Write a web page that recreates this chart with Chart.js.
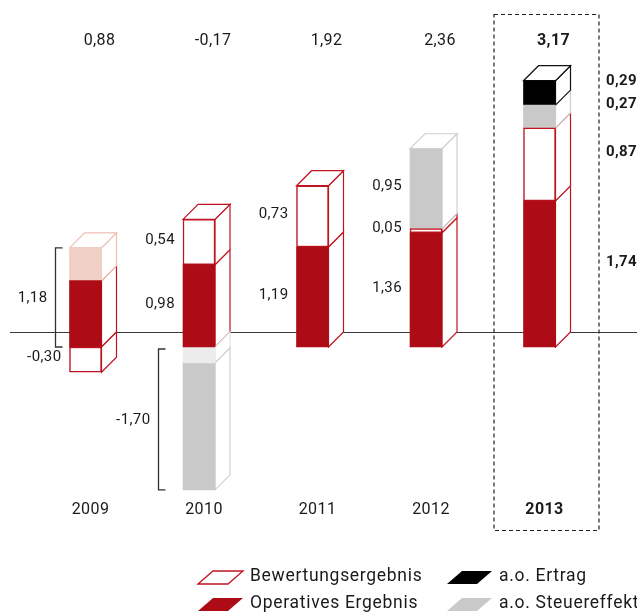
<!DOCTYPE html>
<html><head><meta charset="utf-8">
<script src="https://cdn.jsdelivr.net/npm/chart.js@4.4.1/dist/chart.umd.min.js"></script>
<style>html,body{margin:0;padding:0;background:#fff;overflow:hidden}canvas{display:block}</style>
</head><body>
<canvas id="c" width="637" height="613"></canvas>
<script>
// ---- data ----
const years = ['2009', '2010', '2011', '2012', '2013'];
const totalLabels = ['0,88', '-0,17', '1,92', '2,36', '3,17'];
const operativesErgebnis = [0.79, 0.98, 1.19, 1.36, 1.74];
const operativesHell = [0.39, null, null, null, null];
const bewertungsergebnis = [-0.30, 0.54, 0.73, 0.05, 0.87];
const steuereffektHell = [null, -0.19, null, null, null];
const aoSteuereffekt = [null, -1.51, null, 0.95, 0.27];
const aoErtrag = [null, null, null, null, 0.29];
const bracketLabels = ['1,18', '-1,70'];
const legendLabels = ['Bewertungsergebnis', 'a.o. Ertrag', 'Operatives Ergebnis', 'a.o. Steuereffekt'];

const FONT = 'Roboto, "DejaVu Sans", sans-serif';
const D = 15;            // depth of the 3D faces
const HIGHLIGHT = 4;     // index of highlighted (bold) year
const RED = '#ad0c17';
const REDLINE = '#c01420';

const datasets = [
  {label: legendLabels[2], data: operativesErgebnis, backgroundColor: RED, borderColor: RED, borderWidth: 0,
   sideColor: REDLINE, labeled: true},
  {label: 'hell', data: operativesHell, backgroundColor: '#f0d0c6', borderColor: '#efc7bb', borderWidth: 0,
   sideColor: '#eec0b4', labeled: false},
  {label: legendLabels[0], data: bewertungsergebnis, backgroundColor: '#ffffff', borderColor: REDLINE, borderWidth: 1.5,
   sideColor: REDLINE, labeled: true},
  {label: 'hell2', data: steuereffektHell, backgroundColor: '#ececec', borderColor: '#ececec', borderWidth: 0,
   sideColor: '#e4e4e4', labeled: false},
  {label: legendLabels[3], data: aoSteuereffekt, backgroundColor: '#c8c9c8', borderColor: '#c8c9c8', borderWidth: 0,
   sideColor: '#cfd0cf', labeled: true},
  {label: legendLabels[1], data: aoErtrag, backgroundColor: '#000000', borderColor: '#000000', borderWidth: 0,
   sideColor: '#111111', labeled: true}
];
datasets.forEach(d => { d.borderSkipped = false; d.barThickness = 32; });

// brackets: column, sign of the stack part they embrace
const brackets = [
  {col: 0, sign: 1, label: bracketLabels[0], gap: 15},
  {col: 1, sign: -1, label: bracketLabels[1], gap: 25}
];

function fmt(v) { return v.toFixed(2).replace('.', ','); }

function segments(chart, col) {
  const out = [];
  chart.data.datasets.forEach((ds, di) => {
    const v = ds.data[col];
    if (v === null || v === undefined) return;
    const el = chart.getDatasetMeta(di).data[col];
    const p = el.getProps(['x', 'y', 'base', 'width'], true);
    out.push({ds, di, v, left: p.x - p.width / 2, right: p.x + p.width / 2,
      top: Math.min(p.y, p.base), bottom: Math.max(p.y, p.base), x: p.x});
  });
  return out;
}

function poly(ctx, pts, fill, stroke, lw) {
  ctx.beginPath();
  ctx.moveTo(pts[0][0], pts[0][1]);
  for (let i = 1; i < pts.length; i++) ctx.lineTo(pts[i][0], pts[i][1]);
  ctx.closePath();
  if (fill) { ctx.fillStyle = fill; ctx.fill(); }
  if (stroke) { ctx.strokeStyle = stroke; ctx.lineWidth = lw || 1.2; ctx.stroke(); }
}

function setFont(ctx, weight, size, spacing) {
  ctx.font = weight + ' ' + size + 'px ' + FONT;
  if ('letterSpacing' in ctx) ctx.letterSpacing = spacing + 'px';
}

const depthPlugin = {
  id: 'depth',
  beforeDatasetsDraw(chart) {
    const ctx = chart.ctx;
    const y0 = chart.scales.y.getPixelForValue(0) - D;
    ctx.save();
    ctx.strokeStyle = '#3a3a3a'; ctx.lineWidth = 1;
    ctx.beginPath(); ctx.moveTo(10, Math.round(y0) + 0.5); ctx.lineTo(637, Math.round(y0) + 0.5); ctx.stroke();
    ctx.lineJoin = 'miter';
    years.forEach((y, col) => {
      const segs = segments(chart, col);
      segs.forEach(s => {
        poly(ctx, [[s.right, s.top], [s.right + D, s.top - D], [s.right + D, s.bottom - D], [s.right, s.bottom]],
          '#ffffff', s.ds.sideColor, 1.2);
      });
      const pos = segs.filter(s => s.v > 0);
      if (pos.length) {
        const t = pos.reduce((a, b) => (b.top < a.top ? b : a));
        poly(ctx, [[t.left, t.top], [t.left + D, t.top - D], [t.right + D, t.top - D], [t.right, t.top]],
          '#ffffff', t.ds.sideColor, 1.2);
      }
    });
    ctx.restore();
  },
  afterDraw(chart) {
    const ctx = chart.ctx;
    ctx.save();
    ctx.fillStyle = '#1a1a1a';
    ctx.textBaseline = 'middle';
    // dashed box around highlighted year
    const hx = chart.scales.x.getPixelForValue(HIGHLIGHT);
    ctx.setLineDash([4, 3]); ctx.strokeStyle = '#222'; ctx.lineWidth = 1.2;
    ctx.strokeRect(hx - 45.5, 14.5, 105, 516);
    ctx.setLineDash([]);

    years.forEach((yr, col) => {
      const segs = segments(chart, col);
      const bold = col === HIGHLIGHT;
      const x = chart.scales.x.getPixelForValue(col);
      ctx.textAlign = 'center';
      setFont(ctx, bold ? '700' : '400', 16, 0.4);
      ctx.fillText(totalLabels[col], x + 14, 41);
      ctx.fillText(yr, x + 5, 510);
      const br = brackets.find(b => b.col === col);
      segs.forEach(s => {
        if (!s.ds.labeled) return;
        if (br && Math.sign(s.v) === br.sign) return;
        const mid = (s.top + s.bottom) / 2;
        if (bold) {
          ctx.textAlign = 'left';
          setFont(ctx, '700', 15, 0.4);
          ctx.fillText(fmt(s.v), 606, mid - 12);
        } else {
          ctx.textAlign = 'right';
          setFont(ctx, '400', 15, 0.4);
          ctx.fillText(fmt(s.v), s.left - 8, mid - 2);
        }
      });
      if (br) {
        const part = segs.filter(s => Math.sign(s.v) === br.sign);
        const top = Math.min(...part.map(s => s.top)) + (br.sign < 0 ? 2 : 0);
        const bot = Math.max(...part.map(s => s.bottom));
        const bx = Math.round(segs[0].left - br.gap) + 0.5;
        ctx.strokeStyle = '#333'; ctx.lineWidth = 1.3;
        ctx.beginPath();
        ctx.moveTo(bx + 7, top); ctx.lineTo(bx, top); ctx.lineTo(bx, bot); ctx.lineTo(bx + 7, bot);
        ctx.stroke();
        ctx.textAlign = 'right';
        setFont(ctx, '400', 15, 0.4);
        ctx.fillText(br.label, bx - 8, (top + bot) / 2 + 1);
      }
    });

    // legend
    const items = [
      {ds: datasets[2], x: 198, y: 577},
      {ds: datasets[5], x: 447, y: 577},
      {ds: datasets[0], x: 198, y: 604},
      {ds: datasets[4], x: 447, y: 604}
    ];
    ctx.textAlign = 'left';
    setFont(ctx, '400', 17.5, 0.7);
    items.forEach(it => {
      const b = it.y + 7, t = it.y - 6;
      const filled = it.ds.backgroundColor !== '#ffffff';
      poly(ctx, [[it.x, b], [it.x + 15, t], [it.x + 45, t], [it.x + 30, b]],
        filled ? it.ds.backgroundColor : '#ffffff', filled ? null : it.ds.borderColor, 1.3);
      ctx.fillStyle = '#1a1a1a';
      ctx.fillText(it.ds.label, it.x + 52, it.y);
    });
    ctx.restore();
  }
};

new Chart(document.getElementById('c'), {
  type: 'bar',
  data: {labels: years, datasets},
  options: {
    responsive: false, animation: false, devicePixelRatio: 1,
    layout: {padding: {left: 28.75, right: 40.75, top: 11, bottom: 98}},
    plugins: {legend: {display: false}, tooltip: {enabled: false}},
    scales: {
      x: {display: false, stacked: true},
      y: {display: false, stacked: true, min: -2, max: 4}
    }
  },
  plugins: [depthPlugin]
});
</script>
</body></html>
